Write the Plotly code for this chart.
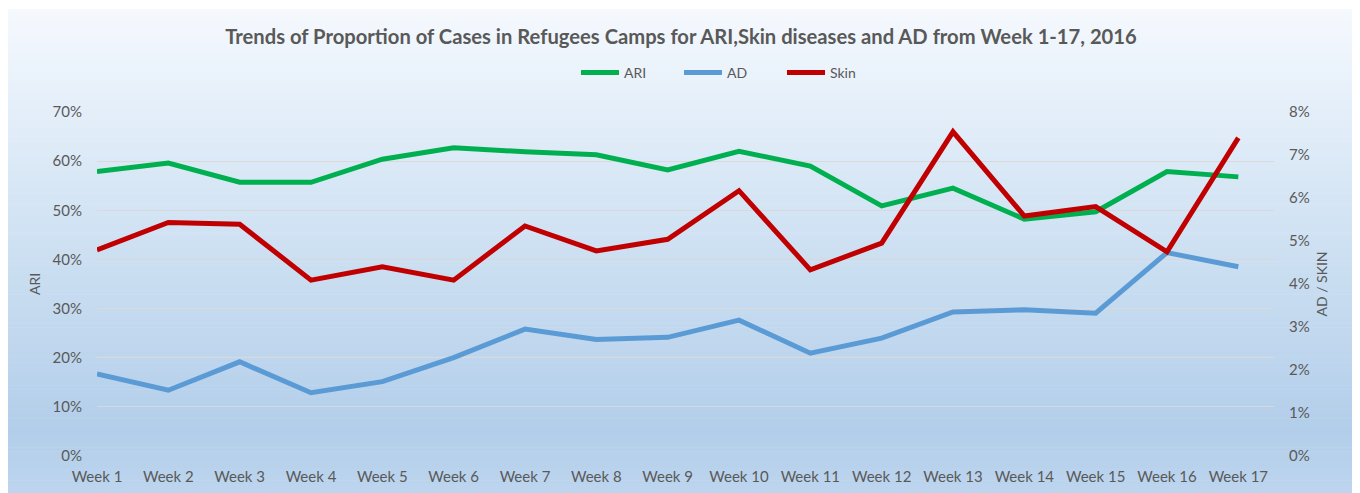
import plotly.graph_objects as go

weeks = [f"Week {i}" for i in range(1, 18)]
ari = [57.9, 59.6, 55.7, 55.7, 60.4, 62.7, 61.9, 61.3, 58.2, 62.0, 59.0, 50.9, 54.5, 48.2, 49.7, 57.9, 56.8]
ad = [1.91, 1.53, 2.19, 1.47, 1.73, 2.29, 2.95, 2.71, 2.76, 3.16, 2.39, 2.74, 3.35, 3.40, 3.32, 4.73, 4.40]
skin = [4.79, 5.43, 5.39, 4.09, 4.40, 4.09, 5.35, 4.77, 5.04, 6.17, 4.33, 4.95, 7.54, 5.58, 5.80, 4.75, 7.40]

ari_v = [v / 100 for v in ari]
ad_v = [v / 100 for v in ad]
skin_v = [v / 100 for v in skin]

# the page shows the figure offset by 8px (body margin); work in screen pixels and shift
OFF = 8
W, H = 1360, 493
sx0, sx1, sy0, sy1 = 97, 1274, 112, 456   # plot area on screen
L, T = sx0 - OFF, sy0 - OFF
R, B = W - (sx1 - OFF), H - (sy1 - OFF)
pw, ph = W - L - R, H - T - B

def px(x):  # screen x -> paper
    return (x - OFF - L) / pw

def py(y):  # screen y -> paper
    return (H - B - (y - OFF)) / ph

FONT = "Lato"
GRAY = "#595959"

fig = go.Figure()
fig.add_trace(go.Scatter(x=weeks, y=ari_v, name="ARI", mode="lines",
                         line=dict(color="#00b050", width=5), yaxis="y"))
fig.add_trace(go.Scatter(x=weeks, y=ad_v, name="AD", mode="lines",
                         line=dict(color="#5b9bd5", width=5), yaxis="y2"))
fig.add_trace(go.Scatter(x=weeks, y=skin_v, name="Skin", mode="lines",
                         line=dict(color="#c00000", width=5), yaxis="y2"))

# background gradient
def hex2rgb(h):
    h = h.lstrip("#")
    return tuple(int(h[i:i + 2], 16) for i in (0, 2, 4))

stops = [(9, hex2rgb("#f5f9fe")), (250, hex2rgb("#cde0f2")), (430, hex2rgb("#b3ceea")), (493, hex2rgb("#bdd5ee"))]

def col_at(y):
    for (y0, c0), (y1, c1) in zip(stops[:-1], stops[1:]):
        if y0 <= y <= y1:
            t = (y - y0) / (y1 - y0)
            return "rgb(%d,%d,%d)" % tuple(round(a + (b - a) * t) for a, b in zip(c0, c1))
    return "rgb(%d,%d,%d)" % stops[-1][1]

shapes = []
n = 120
y_top, y_bot = 9, 505
step = (y_bot - y_top) / n
for i in range(n):
    ya = y_top + i * step
    yb = ya + step + 0.6
    shapes.append(dict(type="rect", xref="paper", yref="paper", layer="below",
                       x0=px(5), x1=px(W + 10),
                       y0=py(yb), y1=py(ya),
                       fillcolor=col_at(ya + step / 2), line=dict(width=0)))

fig.update_layout(
    width=W, height=H,
    margin=dict(l=L, r=R, t=T, b=B, autoexpand=False),
    paper_bgcolor="white",
    plot_bgcolor="rgba(0,0,0,0)",
    shapes=shapes,
    font=dict(family=FONT, color=GRAY, size=14),
    title=dict(text="<b>Trends of Proportion of Cases in Refugees Camps for ARI,Skin diseases and AD from Week 1-17, 2016</b>",
               x=(681 - OFF) / W, xanchor="center", y=1 - (37 - OFF) / H, yanchor="middle",
               xref="container", yref="container",
               font=dict(family=FONT, size=20.2, color=GRAY)),
    legend=dict(orientation="h", x=px(576), xanchor="left", y=py(73), yanchor="middle",
                bgcolor="rgba(0,0,0,0)", font=dict(family=FONT, size=14, color=GRAY),
                entrywidth=50, entrywidthmode="pixels", itemwidth=38),
    xaxis=dict(type="category", range=[0, 16.5], showgrid=False, zeroline=False, showline=False,
               ticks="", tickfont=dict(family=FONT, size=15, color=GRAY), ticklabelstandoff=10),
    yaxis=dict(range=[0, 0.7], dtick=0.1, tickformat=".0%", showgrid=True, gridcolor="#d9d9d9", gridwidth=1,
               zeroline=False, showline=False, tickfont=dict(family=FONT, size=15, color=GRAY),
               ticklabelstandoff=14,
               title=dict(text="ARI", standoff=8, font=dict(family=FONT, size=14, color=GRAY))),
    yaxis2=dict(range=[0, 0.08], dtick=0.01, tickformat=".0%", overlaying="y", side="right",
                showgrid=False, zeroline=False, showline=False,
                tickfont=dict(family=FONT, size=15, color=GRAY), ticklabelstandoff=14,
                title=dict(text="AD / SKIN", standoff=8, font=dict(family=FONT, size=14, color=GRAY))),
    showlegend=True,
)

fig.write_html("out.html")
